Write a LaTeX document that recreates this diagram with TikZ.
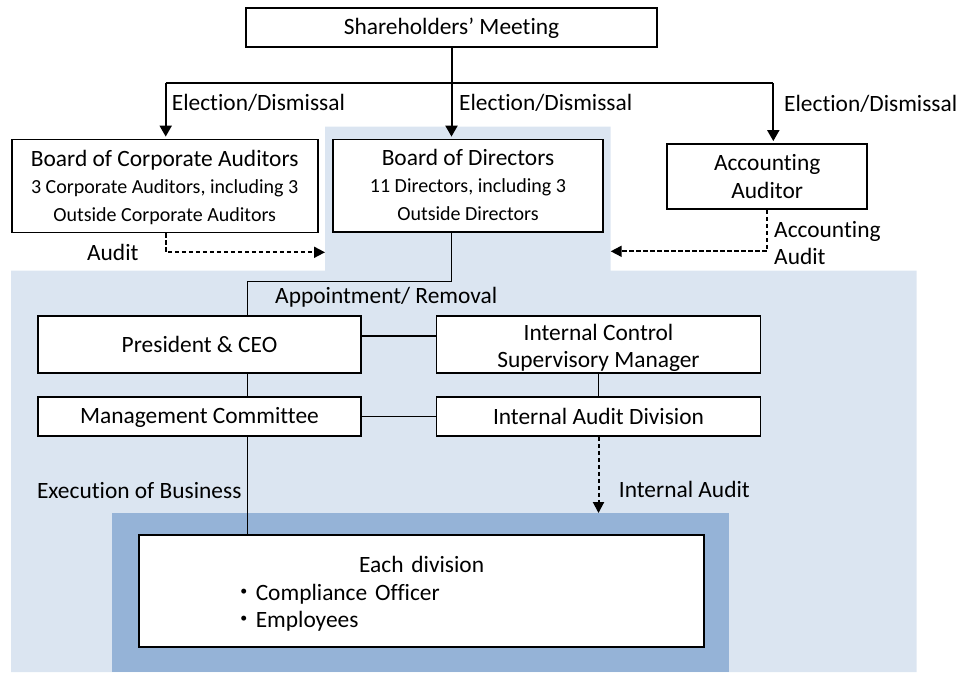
\documentclass[tikz,border=0pt]{standalone}
\usepackage{fontspec}
\setmainfont{Carlito}[Ligatures=NoCommon]
\newfontfamily\cjkfont{Noto Sans CJK JP}
\usetikzlibrary{arrows.meta}
\definecolor{paleblue}{HTML}{DBE5F1}
\definecolor{midblue}{HTML}{95B3D7}
\newcommand\subtext{\fontsize{20}{27.5}\selectfont}
\begin{document}
\begin{tikzpicture}[x=1pt,y=-1pt,
  every node/.style={font=\fontsize{23.4}{27.5}\selectfont, inner sep=0pt},
  box/.style={draw, fill=white, line width=1.8pt, align=center},
  link/.style={line width=1.5pt},
  elect/.style={line width=2pt, -{Triangle[length=11pt,width=12pt]}, shorten >=2pt},
  auditarrow/.style={line width=1.8pt, dash pattern=on 4.5pt off 2.5pt, -{Triangle[length=11pt,width=11pt]}},
  lbl/.style={anchor=base west}]

\useasboundingbox (0,0) rectangle (969,672);

% shaded areas: the board and executive side, and the divisions
\fill[paleblue] (325,126.7) -- (610.7,126.7) -- (610.7,270.7) -- (916.7,270.7)
  -- (916.7,672) -- (11,672) -- (11,270.7) -- (325,270.7) -- cycle;
\fill[midblue] (112.3,512.7) rectangle (729,672);

% boxes
\node[box, minimum width=411.6pt, minimum height=39pt] (SM) at (451.5,27.8) {Shareholders’ Meeting};
\node[box, minimum width=306pt, minimum height=93pt] (BCA) at (164.7,186)
  {\rule{0pt}{19pt}Board of Corporate Auditors\\{\subtext 3 Corporate Auditors, including 3}\\{\subtext Outside Corporate Auditors}};
\node[box, minimum width=269.4pt, minimum height=92.4pt, text depth=2pt] (BoD) at (468,185.7)
  {Board of Directors\\{\subtext 11 Directors, including 3}\\{\subtext Outside Directors}};
\node[box, minimum width=199.7pt, minimum height=65pt] (AA) at (767.2,176.5) {Accounting\\Auditor};
\node[box, minimum width=323pt, minimum height=57pt] (Pres) at (199.5,344.2) {President \& CEO};
\node[box, minimum width=324pt, minimum height=57pt] (IC) at (598.5,344.2) {\rule{0pt}{24pt}Internal Control\\Supervisory Manager};
\node[box, minimum width=323pt, minimum height=39.3pt] (Mgmt) at (199.5,416.3) {\rule{0pt}{19pt}Management Committee};
\node[box, minimum width=324pt, minimum height=39.3pt] (IAD) at (598.5,416.3) {Internal Audit Division};
\node[box, minimum width=564.7pt, minimum height=112.3pt, text width=564.7pt, align=left] (Div) at (421.7,591)
  {\makebox[\linewidth]{\rule{0pt}{22pt}Each division}\\\hspace*{93pt}{\cjkfont ・}Compliance Officer\\\hspace*{93pt}{\cjkfont ・}Employees};

% labels
\node[lbl] (elL) at (171.7,110) {Election/Dismissal};
\node[lbl] (elM) at (459,110.7) {Election/Dismissal};
\node[lbl] (elR) at (784,111.7) {Election/Dismissal};
\node[anchor=base] (auditLbl) at (112.8,260) {Audit};
\node[anchor=north west, align=left] (acLbl) at (774,221) {Accounting\\Audit};
\node[lbl] (apLbl) at (275,303) {Appointment/ Removal};
\node[anchor=base east] (exLbl) at (241.7,498.5) {Execution of Business};
\node[lbl] (iaLbl) at (618.7,497.5) {Internal Audit};

% election and dismissal by the shareholders
\coordinate (jL) at (165.7,83.3);
\coordinate (jR) at (773.3,83.3);
\draw[line width=2pt] (jL) -- (jR);
\draw[elect] (SM.south) -- (SM.south |- BoD.north);
\draw[elect] (jL) -- (jL |- BCA.north);
\draw[elect] (jR) -- (jR |- AA.north);

% audits
\coordinate (auditEnd) at (325,252.3);
\draw[auditarrow] (jL |- BCA.south) |- (auditEnd);
\coordinate (acEnd) at (610.7,251.3);
\draw[auditarrow] (AA.south) |- (acEnd);

% executive chain
\coordinate (appt) at (247.7,281.7);
\draw[link] (SM.south |- BoD.south) |- (appt) -- (appt |- Pres.north);
\draw[link] ([yshift=8pt]Pres.east) -- ([yshift=8pt]IC.west);
\draw[link] (appt |- Pres.south) -- (appt |- Mgmt.north);
\draw[link] (Mgmt.east) -- (IAD.west);
\draw[link] (IC.south) -- (IAD.north);
\draw[link] (appt |- Mgmt.south) -- (appt |- Div.north);
\coordinate (iaEnd) at (599.3,513);
\draw[auditarrow, line width=2pt] (IAD.south) -- (IAD.south |- iaEnd);
\end{tikzpicture}
\end{document}
